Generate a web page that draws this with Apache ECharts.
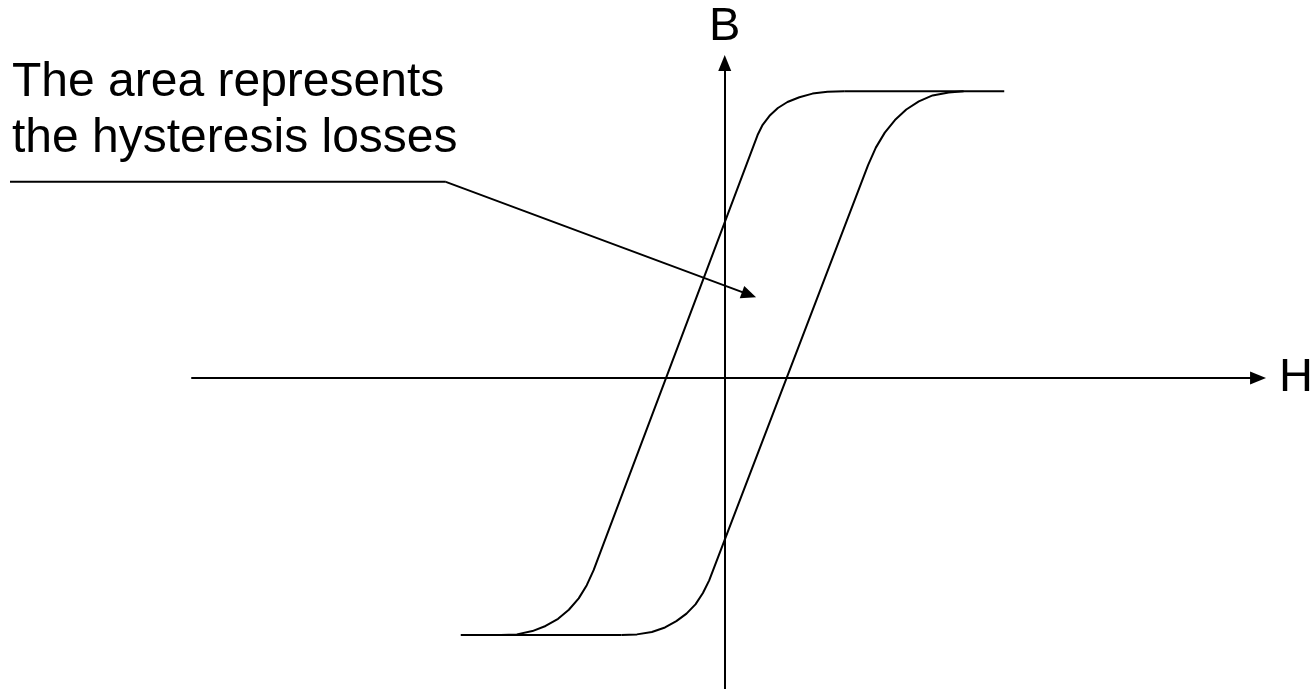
<!DOCTYPE html>
<html>
<head>
<meta charset="utf-8">
<script src="https://cdn.jsdelivr.net/npm/echarts@6/dist/echarts.min.js"></script>
<style>html,body{margin:0;padding:0;background:#fff;}#c{width:1316px;height:689px;}</style>
</head>
<body>
<div id="c"></div>
<script>
// Hysteresis loop, arbitrary units (H horizontal, B vertical)
const hDesc = [2.0, 1.72, 1.47, 1.25, 1.05, 0.89, 0.75, 0.635, 0.55, -2.195, -2.31, -2.445, -2.61, -2.79, -3.0, -3.22, -3.48, -3.75];
const bDesc = [4.78, 4.77, 4.74, 4.68, 4.6, 4.5, 4.37, 4.22, 4.05, -3.2, -3.45, -3.67, -3.86, -4.01, -4.13, -4.215, -4.27, -4.28];
const hAsc = [-1.73, -1.47, -1.22, -1.0, -0.81, -0.64, -0.49, -0.365, -0.26, 2.4, 2.53, 2.68, 2.85, 3.04, 3.25, 3.48, 3.75, 4.0];
const bAsc = [-4.28, -4.27, -4.23, -4.155, -4.05, -3.925, -3.77, -3.58, -3.37, 3.55, 3.84, 4.09, 4.30, 4.475, 4.61, 4.71, 4.76, 4.78];
const hTopSat = [2.0, 4.68];
const bTopSat = [4.78, 4.78];
const hBottomSat = [-4.42, -1.73];
const bBottomSat = [-4.28, -4.28];
// annotation leader (data units): elbow point and arrow end
const leaderH = [-4.67, 0.407];
const leaderB = [3.27, 1.39];
const annotationLines = ['The area represents', 'the hysteresis losses'];
const axisNames = {x: 'H', y: 'B'};

const FONT = '"Liberation Sans", Arial, sans-serif';
const zip = (a, b) => a.map((v, i) => [v, b[i]]);
const curveStyle = {color: '#000', width: 2};

const chart = echarts.init(document.getElementById('c'), null, {renderer: 'canvas'});
const option = {
  backgroundColor: '#fff',
  animation: false,
  grid: {left: 192, right: 53, top: 63, bottom: 0, containLabel: false},
  xAxis: {
    type: 'value', min: -8.92, max: 8.93,
    name: axisNames.x, nameLocation: 'end', nameGap: 21,
    nameTextStyle: {fontFamily: FONT, fontSize: 47, color: '#000'},
    axisLine: {show: true, onZero: true, symbol: ['none', 'triangle'], symbolSize: [13, 16],
      lineStyle: {color: '#000', width: 2}},
    axisTick: {show: false}, axisLabel: {show: false}, splitLine: {show: false}
  },
  yAxis: {
    type: 'value', min: -5.18, max: 5.25,
    name: axisNames.y, nameLocation: 'end', nameGap: 12,
    nameTextStyle: {fontFamily: FONT, fontSize: 47, color: '#000'},
    axisLine: {show: true, onZero: true, symbol: ['none', 'triangle'], symbolSize: [13, 16],
      lineStyle: {color: '#000', width: 2}},
    axisTick: {show: false}, axisLabel: {show: false}, splitLine: {show: false}
  },
  series: [
    {type: 'line', name: 'descending', data: zip(hDesc, bDesc), symbol: 'none', lineStyle: curveStyle, silent: true},
    {type: 'line', name: 'ascending', data: zip(hAsc, bAsc), symbol: 'none', lineStyle: curveStyle, silent: true},
    {type: 'line', name: 'topSat', data: zip(hTopSat, bTopSat), symbol: 'none', lineStyle: curveStyle, silent: true},
    {type: 'line', name: 'bottomSat', data: zip(hBottomSat, bBottomSat), symbol: 'none', lineStyle: curveStyle, silent: true,
      markLine: {
        silent: true, animation: false,
        symbol: ['none', 'triangle'], symbolSize: [13, 15],
        label: {show: false},
        lineStyle: {color: '#000', width: 2, type: 'solid'},
        emphasis: {disabled: true},
        data: [[{coord: [leaderH[0], leaderB[0]]}, {coord: [leaderH[1], leaderB[1]]}]]
      }
    }
  ],
  graphic: [{
    type: 'text', left: 12, top: 55, silent: true,
    style: {text: annotationLines.join('\n'), font: '48px ' + FONT, fill: '#000', lineHeight: 56}
  }]
};
chart.setOption(option);
// horizontal part of the annotation leader, from the text's left edge to the elbow
const elbow = chart.convertToPixel({gridIndex: 0}, [leaderH[0], leaderB[0]]);
chart.setOption({
  graphic: [{
    type: 'text', left: 12, top: 55, silent: true,
    style: {text: annotationLines.join('\n'), font: '48px ' + FONT, fill: '#000', lineHeight: 56}
  }, {
    type: 'line', silent: true,
    shape: {x1: 10, y1: elbow[1], x2: elbow[0], y2: elbow[1]},
    style: {stroke: '#000', lineWidth: 2}
  }]
});
</script>
</body>
</html>
